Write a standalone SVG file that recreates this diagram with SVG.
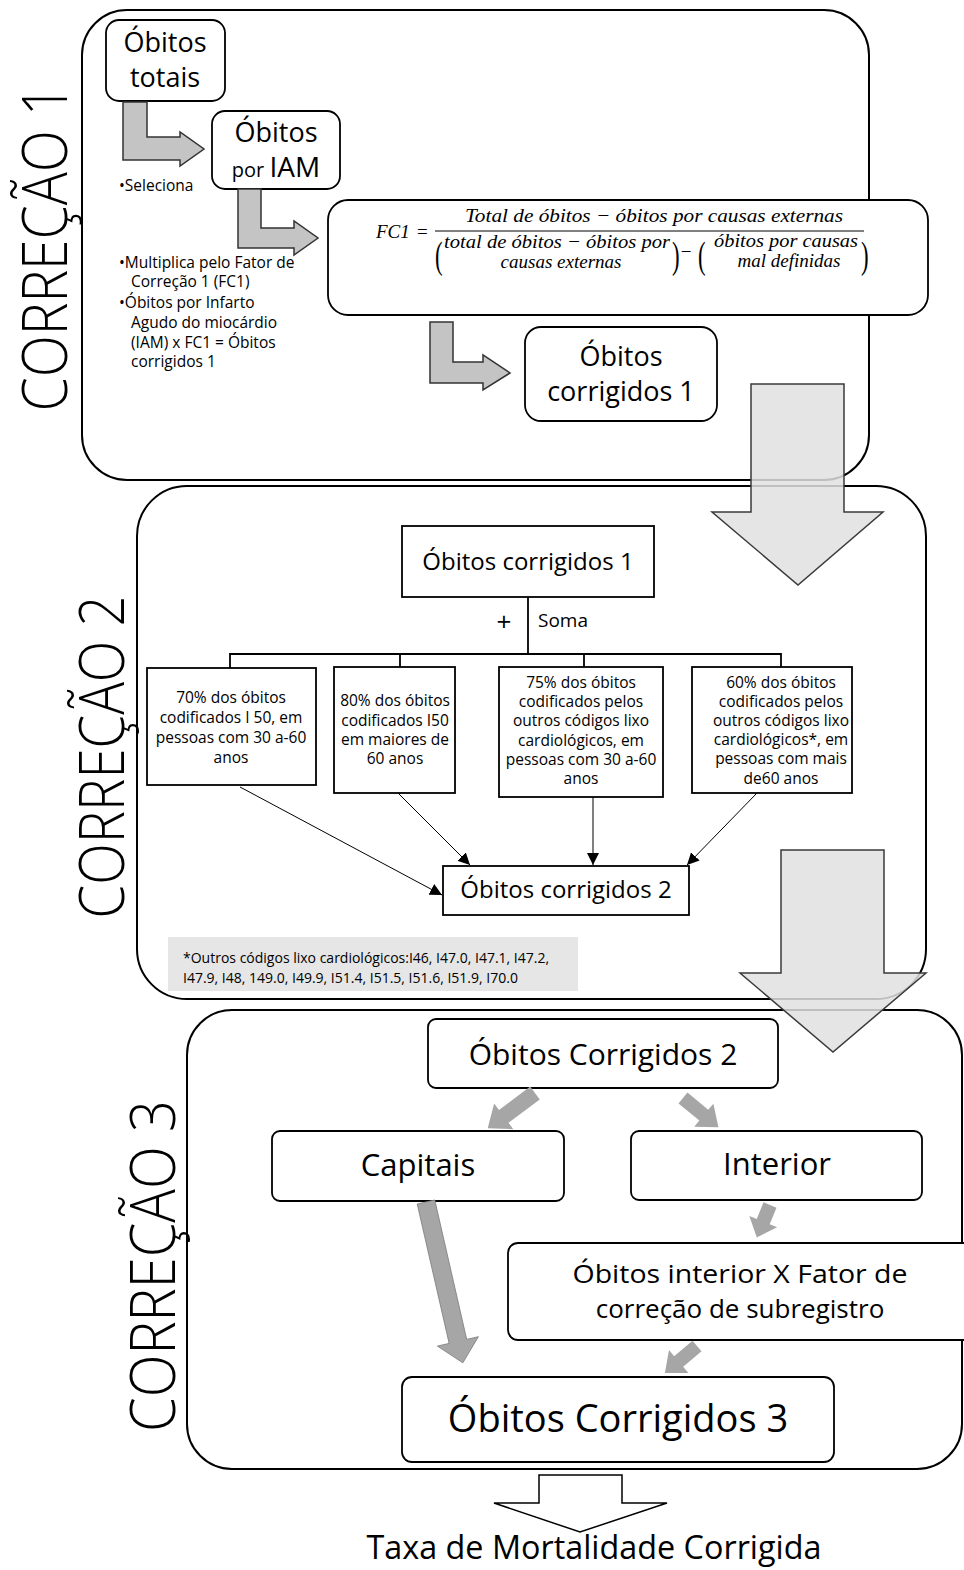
<svg xmlns="http://www.w3.org/2000/svg" width="964" height="1570" viewBox="0 0 964 1570">
<defs>
<style>
.t{font-family:"Open Sans","Noto Sans","DejaVu Sans",sans-serif;fill:#000}
.m{font-family:"Liberation Serif","DejaVu Serif",serif;font-style:italic;fill:#000}
.mp{font-family:"Liberation Serif","DejaVu Serif",serif;fill:#000}
.ttl{font-family:"Open Sans","Noto Sans",sans-serif;font-weight:300;font-size:62px;fill:#000}
.cont{fill:#fff;stroke:#000;stroke-width:2}
.box{fill:#fff;stroke:#000;stroke-width:1.8}
.larr{fill:#c4c4c4;stroke:#333;stroke-width:1.5;stroke-linejoin:miter}
.big{fill:#e0e0e0;fill-opacity:0.85;stroke:#3a3a3a;stroke-width:1.5}
.ga{fill:#a6a6a6}
.ln{fill:none;stroke:#000;stroke-width:1.8}
.thin{fill:none;stroke:#000;stroke-width:1}
</style>
<marker id="ah" markerUnits="userSpaceOnUse" markerWidth="14" markerHeight="12" refX="12" refY="6" orient="auto">
<path d="M0,0 L12,6 L0,12 Z" fill="#000"/>
</marker>
</defs>
<rect width="964" height="1570" fill="#fff"/>

<!-- Containers -->
<g id="correcao1">
<rect class="cont" x="82" y="10" width="787" height="470" rx="45"/>
<text class="ttl" transform="translate(67,248) rotate(-90)" text-anchor="middle" textLength="327" lengthAdjust="spacingAndGlyphs">CORREÇÃO 1</text>
</g>
<g id="correcao2">
<rect class="cont" x="137" y="486" width="789" height="513" rx="50"/>
<text class="ttl" transform="translate(124,757) rotate(-90)" text-anchor="middle" textLength="323" lengthAdjust="spacingAndGlyphs">CORREÇÃO 2</text>
</g>
<g id="correcao3">
<rect class="cont" x="187" y="1010" width="775" height="459" rx="45"/>
<text class="ttl" transform="translate(175,1266) rotate(-90)" text-anchor="middle" textLength="332" lengthAdjust="spacingAndGlyphs">CORREÇÃO 3</text>
</g>

<!-- Correção 1 nodes -->
<g id="obitos-totais">
<rect class="box" x="106" y="20" width="119" height="81" rx="13"/>
<text class="t" x="165" y="52" font-size="27" text-anchor="middle">Óbitos</text>
<text class="t" x="165" y="87" font-size="27" text-anchor="middle">totais</text>
</g>
<g id="obitos-iam">
<rect class="box" x="212" y="111" width="128" height="78" rx="13"/>
<text class="t" x="276" y="142" font-size="27" text-anchor="middle">Óbitos</text>
<text class="t" x="276" y="177" text-anchor="middle"><tspan font-size="20">por </tspan><tspan font-size="28">IAM</tspan></text>
</g>
<g id="notas-c1" class="t" font-size="15.5">
<text x="119" y="191">•Seleciona</text>
<text x="119" y="268">•Multiplica pelo Fator de</text>
<text x="131" y="287">Correção 1 (FC1)</text>
<text x="119" y="308">•Óbitos por Infarto</text>
<text x="131" y="328">Agudo do miocárdio</text>
<text x="131" y="348">(IAM) x FC1 = Óbitos</text>
<text x="131" y="367">corrigidos 1</text>
</g>
<g id="formula-fc1">
<rect class="box" x="328" y="200" width="600" height="115" rx="20"/>
<text class="m" x="376" y="238" font-size="19">FC1</text>
<text class="mp" x="417" y="238" font-size="19">=</text>
<line x1="435" y1="231" x2="864" y2="231" stroke="#000" stroke-width="1"/>
<text class="m" x="654" y="222" font-size="19" text-anchor="middle" textLength="378" lengthAdjust="spacingAndGlyphs">Total de óbitos  − óbitos por causas externas</text>
<text class="mp" x="435" y="268" font-size="38" transform="translate(435,268) scale(0.6,1) translate(-435,-268)">(</text>
<text class="m" x="557" y="248" font-size="19" text-anchor="middle" textLength="226" lengthAdjust="spacingAndGlyphs">total de óbitos − óbitos por</text>
<text class="m" x="561" y="268" font-size="19" text-anchor="middle">causas externas</text>
<text class="mp" x="672" y="268" font-size="38" transform="translate(672,268) scale(0.6,1) translate(-672,-268)">)</text>
<text class="mp" x="686" y="258" font-size="19" text-anchor="middle">−</text>
<text class="mp" x="698" y="268" font-size="38" transform="translate(698,268) scale(0.6,1) translate(-698,-268)">(</text>
<text class="m" x="786" y="247" font-size="19" text-anchor="middle" textLength="144" lengthAdjust="spacingAndGlyphs">óbitos por causas</text>
<text class="m" x="789" y="267" font-size="19" text-anchor="middle">mal definidas</text>
<text class="mp" x="861" y="268" font-size="38" transform="translate(861,268) scale(0.6,1) translate(-861,-268)">)</text>
</g>
<g id="obitos-corrigidos-1a">
<rect class="box" x="525" y="327" width="192" height="94" rx="16"/>
<text class="t" x="621" y="366" font-size="27" text-anchor="middle">Óbitos</text>
<text class="t" x="621" y="401" font-size="27" text-anchor="middle">corrigidos 1</text>
</g>

<!-- Correção 2 nodes -->
<g id="obitos-corrigidos-1b">
<rect class="box" x="402" y="526" width="252" height="71"/>
<text class="t" x="528" y="570" font-size="24" text-anchor="middle">Óbitos corrigidos 1</text>
</g>
<g id="soma">
<text class="t" x="504" y="631" font-size="26" text-anchor="middle">+</text>
<text class="t" x="538" y="627" font-size="19">Soma</text>
</g>
<g id="i50-30-60" class="t" font-size="15.5" text-anchor="middle">
<rect class="box" x="147" y="668" width="169" height="117"/>
<text x="231" y="703">70% dos óbitos</text>
<text x="231" y="723">codificados I 50, em</text>
<text x="231" y="743">pessoas com 30 a-60</text>
<text x="231" y="763">anos</text>
</g>
<g id="i50-60" class="t" font-size="15.5" text-anchor="middle">
<rect class="box" x="334" y="667" width="121" height="126"/>
<text x="395" y="706">80% dos óbitos</text>
<text x="395" y="726">codificados I50</text>
<text x="395" y="745">em maiores de</text>
<text x="395" y="764">60 anos</text>
</g>
<g id="lixo-30-60" class="t" font-size="15.5" text-anchor="middle">
<rect class="box" x="499" y="667" width="164" height="130"/>
<text x="581" y="688">75% dos óbitos</text>
<text x="581" y="707">codificados pelos</text>
<text x="581" y="726">outros códigos lixo</text>
<text x="581" y="746">cardiológicos, em</text>
<text x="581" y="765">pessoas com 30 a-60</text>
<text x="581" y="784">anos</text>
</g>
<g id="lixo-60" class="t" font-size="15.5" text-anchor="middle">
<rect class="box" x="692" y="667" width="160" height="126"/>
<text x="781" y="688">60% dos óbitos</text>
<text x="781" y="707">codificados pelos</text>
<text x="781" y="726">outros códigos lixo</text>
<text x="781" y="745">cardiológicos*, em</text>
<text x="781" y="764">pessoas com mais</text>
<text x="781" y="784">de60 anos</text>
</g>
<g id="obitos-corrigidos-2a">
<rect class="box" x="443" y="866" width="246" height="49"/>
<text class="t" x="566" y="898" font-size="24" text-anchor="middle">Óbitos corrigidos 2</text>
</g>
<g id="nota-lixo">
<rect x="168" y="937" width="410" height="54" fill="#e6e6e6"/>
<text class="t" x="183" y="963" font-size="14">*Outros códigos lixo cardiológicos:I46, I47.0, I47.1, I47.2,</text>
<text class="t" x="183" y="983" font-size="14">I47.9, I48, 149.0, I49.9, I51.4, I51.5, I51.6, I51.9, I70.0</text>
</g>

<!-- Correção 3 nodes -->
<g id="obitos-corrigidos-2b">
<rect class="box" x="428" y="1019" width="350" height="69" rx="8"/>
<text class="t" x="603" y="1065" font-size="30" text-anchor="middle">Óbitos Corrigidos 2</text>
</g>
<g id="capitais">
<rect class="box" x="272" y="1131" width="292" height="70" rx="8"/>
<text class="t" x="418" y="1176" font-size="31" text-anchor="middle">Capitais</text>
</g>
<g id="interior">
<rect class="box" x="631" y="1131" width="291" height="69" rx="8"/>
<text class="t" x="777" y="1175" font-size="31" text-anchor="middle">Interior</text>
</g>
<g id="obitos-interior">
<rect class="box" x="508" y="1243" width="470" height="97" rx="10"/>
<text class="t" x="740" y="1283" font-size="26" text-anchor="middle" textLength="335" lengthAdjust="spacingAndGlyphs">Óbitos interior X Fator de</text>
<text class="t" x="740" y="1318" font-size="26" text-anchor="middle">correção de subregistro</text>
</g>
<g id="obitos-corrigidos-3">
<rect class="box" x="402" y="1377" width="432" height="85" rx="10"/>
<text class="t" x="618" y="1432" font-size="38" text-anchor="middle">Óbitos Corrigidos 3</text>
</g>
<g id="taxa">
<text class="t" x="594" y="1559" font-size="32" text-anchor="middle" textLength="455" lengthAdjust="spacingAndGlyphs">Taxa de Mortalidade Corrigida</text>
</g>

<!-- Connectors -->
<g id="connectors">
<polygon class="larr" points="123,102 147,102 147,137 180,137 180,132 204,149 180,166 180,160 123,160"/>
<polygon class="larr" points="238,189 261,189 261,228 294,228 294,221 318,238 294,255 294,248 238,248"/>
<polygon class="larr" points="430,322 453,322 453,362 483,362 483,355 510,373 483,390 483,383 430,383"/>
<polygon class="big" points="751,384 844,384 844,512 883,512 798,585 712,512 751,512"/>
<polygon class="big" points="781,850 884,850 884,973 926,973 833,1052 740,973 781,973"/>

<polyline class="ln" points="528,597 528,654"/>
<polyline class="ln" points="230,668 230,654 781,654 781,667"/>
<line class="ln" x1="400" y1="654" x2="400" y2="667"/>
<line class="ln" x1="584" y1="654" x2="584" y2="667"/>
<line class="thin" x1="240" y1="787" x2="442" y2="895" marker-end="url(#ah)"/>
<line class="thin" x1="398" y1="793" x2="470" y2="865" marker-end="url(#ah)"/>
<line class="thin" x1="593" y1="797" x2="593" y2="865" marker-end="url(#ah)"/>
<line class="thin" x1="757" y1="793" x2="687" y2="865" marker-end="url(#ah)"/>

<polygon class="ga" transform="translate(535,1093) rotate(143.3)" points="0,-8 39,-8 39,-16 59,0 39,16 39,8 0,8"/>
<polygon class="ga" transform="translate(683,1098) rotate(39.6)" points="0,-7 27,-7 27,-15 46,0 27,15 27,7 0,7"/>
<polygon class="ga" transform="translate(770,1205) rotate(112.1)" points="0,-7 18,-7 18,-15 35,0 18,15 18,7 0,7"/>
<polygon class="ga" transform="translate(697,1346) rotate(139.8)" points="0,-7 24,-7 24,-15 42,0 24,15 24,7 0,7"/>
<polygon class="ga" stroke="#808080" stroke-width="0.8" transform="translate(426,1202) rotate(77.1)" points="0,-9 143,-9 143,-21 165,0 143,21 143,9 0,9"/>

<polygon fill="#fff" stroke="#000" stroke-width="1.5" points="539,1475 622,1475 622,1503 667,1503 580,1532 494,1503 539,1503"/>
</g>
</svg>
